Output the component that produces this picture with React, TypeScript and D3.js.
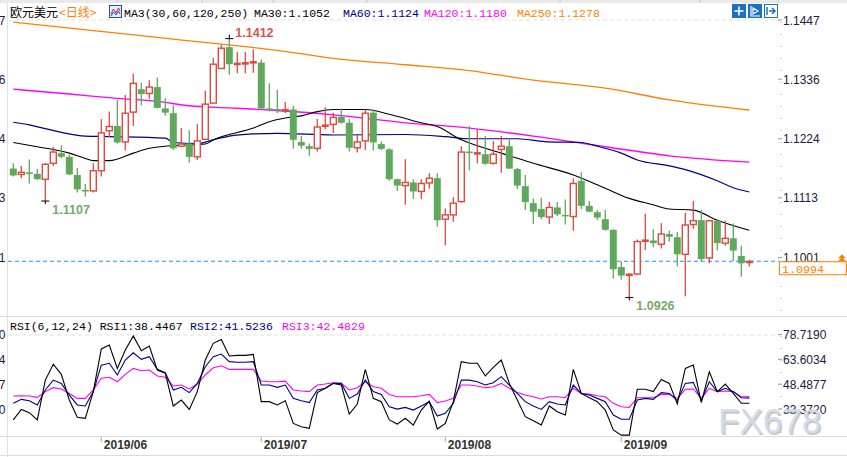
import React from 'react';
import * as d3 from 'd3';

// ---- Daily EUR/USD candles ----
const OPEN = [1.1168,1.1157,1.1161,1.1158,1.1148,1.1178,1.1197,1.1190,1.1156,1.1128,
  1.1126,1.1164,1.1239,1.1248,1.1218,1.1274,1.1317,1.1309,1.1321,1.1281,
  1.1272,1.1210,1.1215,1.1190,1.1223,1.1291,1.1356,1.1396,1.1363,1.1364,
  1.1366,1.1367,1.1281,1.1280,1.1276,1.1279,1.1218,1.1210,1.1206,1.1247,
  1.1251,1.1265,1.1254,1.1207,1.1220,1.1273,1.1214,1.1204,1.1148,1.1136,
  1.1142,1.1125,1.1141,1.1150,1.1073,1.1081,1.1106,1.1200,1.1195,1.1195,
  1.1178,1.1204,1.1210,1.1167,1.1135,1.1103,1.1092,1.1077,1.1095,1.1081,
  1.1078,1.1145,1.1098,1.1086,1.1073,1.1053,1.0983,1.0967,1.0970,1.1031,
  1.1033,1.1026,1.1045,1.1039,1.1007,1.1063,1.1071,1.1000,1.1070,1.1028,
  1.1037,1.1004,1.0991];
const HIGH = [1.1178,1.1173,1.1185,1.1167,1.1178,1.1209,1.1212,1.1194,1.1169,1.1139,
  1.1178,1.1261,1.1275,1.1297,1.1306,1.1346,1.1329,1.1334,1.1339,1.1300,
  1.1287,1.1244,1.1240,1.1251,1.1314,1.1376,1.1401,1.1412,1.1387,1.1387,
  1.1392,1.1373,1.1328,1.1316,1.1293,1.1286,1.1229,1.1215,1.1261,1.1283,
  1.1273,1.1281,1.1261,1.1231,1.1279,1.1279,1.1219,1.1206,1.1149,1.1186,
  1.1148,1.1148,1.1159,1.1159,1.1093,1.1114,1.1210,1.1248,1.1242,1.1229,
  1.1220,1.1229,1.1225,1.1169,1.1156,1.1112,1.1113,1.1105,1.1105,1.1110,
  1.1150,1.1161,1.1107,1.1090,1.1090,1.1054,1.0993,1.0971,1.1035,1.1083,
  1.1054,1.1066,1.1051,1.1049,1.1085,1.1107,1.1090,1.1071,1.1071,1.1070,
  1.1065,1.1023,1.0997];
const LOW = [1.1153,1.1150,1.1140,1.1147,1.1107,1.1173,1.1187,1.1156,1.1123,1.1115,
  1.1123,1.1153,1.1227,1.1215,1.1202,1.1248,1.1287,1.1299,1.1281,1.1267,
  1.1203,1.1209,1.1179,1.1184,1.1222,1.1290,1.1355,1.1344,1.1347,1.1347,
  1.1348,1.1278,1.1275,1.1272,1.1272,1.1205,1.1205,1.1192,1.1200,1.1242,
  1.1235,1.1252,1.1200,1.1198,1.1203,1.1202,1.1203,1.1145,1.1126,1.1100,
  1.1111,1.1111,1.1130,1.1059,1.1024,1.1068,1.1104,1.1165,1.1178,1.1175,
  1.1175,1.1160,1.1167,1.1130,1.1090,1.1064,1.1073,1.1064,1.1079,1.1063,
  1.1051,1.1092,1.1086,1.1071,1.1051,1.0961,1.0959,1.0926,1.0968,1.1015,
  1.1020,1.1018,1.1031,1.0984,1.0928,1.1055,1.0993,1.0990,1.1014,1.1023,
  1.0995,1.0965,1.0984];
const CLOSE = [1.1155,1.1161,1.1158,1.1148,1.1176,1.1199,1.1190,1.1157,1.1129,1.1125,
  1.1164,1.1235,1.1247,1.1217,1.1272,1.1328,1.1308,1.1321,1.1282,1.1273,
  1.1206,1.1214,1.1190,1.1220,1.1289,1.1364,1.1394,1.1364,1.1366,1.1367,
  1.1369,1.1281,1.1279,1.1278,1.1279,1.1222,1.1211,1.1205,1.1246,1.1250,
  1.1264,1.1254,1.1207,1.1218,1.1272,1.1217,1.1205,1.1148,1.1136,1.1142,
  1.1125,1.1140,1.1150,1.1071,1.1081,1.1103,1.1199,1.1197,1.1198,1.1177,
  1.1195,1.1210,1.1168,1.1136,1.1105,1.1087,1.1077,1.1095,1.1082,1.1079,
  1.1140,1.1098,1.1087,1.1076,1.1053,1.0979,1.0967,1.0970,1.1031,1.1034,
  1.1028,1.1045,1.1040,1.1007,1.1062,1.1070,1.0998,1.1070,1.1028,1.1037,
  1.1014,1.0990,1.0994];

// ---- Moving averages: [candle index, value] ----
const MA30: [number, number][] = [[0,1.1217],[3,1.1209],[7,1.1197],[9,1.1187],[10,1.1183],[12,1.1183],[15,1.1197],[17,1.1206],[21,1.1212],[24,1.1214],[25,1.1222],[30,1.1244],[32,1.1256],[34,1.1263],[36,1.1267],[38,1.1275],[40,1.1279],[44,1.1279],[47,1.1270],[49,1.1262],[51,1.1254],[53,1.1247],[56,1.1222],[59,1.1206],[61,1.1197],[65,1.1178],[70,1.1156],[74,1.1131],[77,1.1112],[80,1.1100],[82,1.1092],[85,1.1090],[88,1.1071],[92,1.1052]];
const MA60: [number, number][] = [[0,1.1255],[2,1.1250],[4,1.1243],[6,1.1236],[9,1.1229],[12,1.1228],[19,1.1225],[20,1.1217],[23,1.1215],[25,1.1222],[27,1.1229],[30,1.1233],[33,1.1234],[40,1.1231],[49,1.1232],[54,1.1228],[57,1.1224],[63,1.1224],[67,1.1218],[71,1.1217],[73,1.1210],[76,1.1197],[78,1.1184],[82,1.1173],[84,1.1166],[88,1.1145],[90,1.1132],[92,1.1124]];
const MA120: [number, number][] = [[0,1.1317],[7,1.1308],[13,1.1300],[18,1.1294],[22,1.1286],[27,1.1282],[32,1.1278],[40,1.1269],[49,1.1254],[57,1.1244],[65,1.1229],[74,1.1209],[82,1.1192],[92,1.1180]];
const MA250: [number, number][] = [[0,1.1443],[10,1.1427],[20,1.1411],[33,1.1390],[40,1.1375],[49,1.1363],[57,1.1352],[65,1.1334],[74,1.1319],[82,1.1297],[92,1.1278]];

// ---- RSI (6,12,24) ----
const RSI1 = [28.3,34.7,32.7,28.3,52.5,62.1,56.0,40.4,29.9,29.3,
  45.5,71.4,73.8,59.6,70.8,79.3,70.3,73.2,58.6,56.6,
  36.8,40.4,34.7,45.5,64.7,74.8,77.2,67.1,67.5,67.5,
  68.1,39.4,39.4,37.4,40.0,26.2,24.2,23.2,44.9,47.5,
  50.5,49.5,31.9,38.0,59.0,41.4,39.4,28.3,25.8,29.3,
  25.2,34.3,39.8,22.8,26.2,39.4,63.7,62.7,62.7,55.0,
  60.2,64.7,50.5,40.4,30.3,27.8,25.2,36.8,33.3,31.3,
  59.0,44.4,41.8,39.4,34.3,22.2,19.1,19.1,46.9,46.9,
  45.5,52.9,50.5,38.0,59.6,61.6,38.8,57.6,45.5,50.1,
  44.4,38.4,38.4467];
const RSI2 = [38.4,40.8,40.0,37.4,46.5,52.5,50.5,43.4,37.4,36.8,
  45.5,61.6,62.7,55.6,64.7,69.1,65.1,66.7,59.0,57.0,
  46.5,48.1,44.9,50.5,60.6,66.7,68.3,63.7,63.3,63.3,
  63.7,49.5,49.5,48.1,49.5,41.4,40.0,38.8,46.5,47.5,
  50.5,50.5,41.4,44.0,52.5,45.5,43.8,36.3,34.9,35.9,
  34.3,36.8,39.4,30.7,32.3,38.4,52.5,52.5,51.5,49.5,
  50.9,54.6,49.5,44.4,39.4,36.8,34.7,39.4,38.0,37.4,
  49.5,44.4,43.4,41.4,39.4,31.3,28.7,28.7,40.4,41.4,
  40.8,44.9,44.4,40.0,50.5,51.1,40.0,51.5,45.5,47.5,
  45.5,41.8,41.5236];
const RSI3 = [42.8,43.0,42.8,42.0,45.5,47.9,47.1,44.4,41.4,41.4,
  46.5,53.6,54.2,51.5,56.0,59.6,58.2,58.6,55.0,54.2,
  48.9,49.5,47.1,50.1,55.6,60.0,61.2,59.0,59.0,59.0,
  59.0,51.9,51.5,51.5,51.9,46.5,45.9,45.5,49.5,50.1,
  50.9,50.5,46.5,47.9,51.5,48.5,47.5,43.8,42.4,42.4,
  42.4,43.0,43.8,38.8,39.8,41.4,49.5,49.5,48.9,47.9,
  48.5,50.5,47.5,44.9,43.4,42.4,41.0,42.4,42.4,41.8,
  47.5,44.4,44.0,43.0,42.4,38.4,36.3,35.9,41.8,41.8,
  41.8,43.8,43.8,41.4,46.9,47.1,41.4,47.5,45.5,45.9,
  45.5,42.4,42.4829];

const PRICE_TICKS = [1.1447, 1.1336, 1.1224, 1.1113, 1.1001];
const RSI_TICKS = [78.719, 63.6034, 48.4877, 33.372];
const MONTH_LABELS = ['2019/06', '2019/07', '2019/08', '2019/09'];
const MONTH_START = [11, 31, 54, 76];
const LAST_PRICE = 1.0994;
const HIGH_MARK = { index: 27, value: 1.1412 };
const LOW_MARKS = [{ index: 4, value: 1.1107 }, { index: 77, value: 1.0926 }];

const UP = '#dc4a40';
const DOWN = '#60a85c';
const MONO = '"Liberation Mono", "DejaVu Sans Mono", monospace';
const SANS = '"Liberation Sans", Arial, sans-serif';

export default function App() {
  const W = 847, H = 457;
  const x = d3.scaleLinear().domain([0, 92]).range([13.3, 749.3]);
  const yP = d3.scaleLinear().domain([1.1447, 1.1001]).range([20, 257.5]);
  const yR = d3.scaleLinear().domain([78.719, 33.372]).range([336.9, 411.6]);

  const maLine = d3.line<[number, number]>().x(d => x(d[0])).y(d => yP(d[1])).curve(d3.curveMonotoneX);
  const rsiLine = d3.line<number>().x((_, i) => x(i)).y(d => yR(d));

  const candles = OPEN.map((o, i) => {
    const c = CLOSE[i], h = HIGH[i], l = LOW[i];
    const cx = x(i);
    const up = c >= o;
    const yTop = yP(Math.max(o, c)), yBot = yP(Math.min(o, c));
    const bodyH = yBot - yTop;
    if (up) {
      if (bodyH < 2) {
        return (
          <g key={i}>
            <line x1={cx} x2={cx} y1={yP(h)} y2={yP(l)} stroke={UP} strokeWidth={1.3} />
            <rect x={cx - 3.5} y={yTop - 0.5} width={7} height={Math.max(2, bodyH + 1)} fill={UP} />
          </g>
        );
      }
      return (
        <g key={i}>
          <line x1={cx} x2={cx} y1={yP(h)} y2={yTop} stroke={UP} strokeWidth={1.3} />
          <line x1={cx} x2={cx} y1={yBot} y2={yP(l)} stroke={UP} strokeWidth={1.3} />
          <rect x={cx - 3} y={yTop} width={6} height={bodyH} fill="#fff" stroke={UP} strokeWidth={1.4} />
        </g>
      );
    }
    return (
      <g key={i}>
        <line x1={cx} x2={cx} y1={yP(h)} y2={yP(l)} stroke={DOWN} strokeWidth={1.3} />
        <rect x={cx - 3.5} y={yTop} width={7} height={Math.max(1.5, bodyH)} fill={DOWN} />
      </g>
    );
  });

  const axisX = 781;
  const lastY = yP(LAST_PRICE);

  return (
    <svg width={W} height={H} style={{ position: 'absolute', left: 0, top: 0, background: '#fff' }}>
      <rect x={0} y={0} width={W} height={H} fill="#fff" />
      {/* top toolbar strip */}
      <rect x={0} y={0} width={W} height={3} fill="#e9e9e9" />
      {[117, 202, 273, 367, 560, 700, 778].map(v => (
        <line key={v} x1={v} x2={v} y1={0} y2={3} stroke="#c8c8c8" />
      ))}

      {/* panel frame lines */}
      <line x1={7.5} x2={7.5} y1={3} y2={H} stroke="#e2e2e2" />
      <line x1={0} x2={W} y1={316.5} y2={316.5} stroke="#dcdcdc" />
      <line x1={0} x2={W} y1={436.5} y2={436.5} stroke="#dcdcdc" />
      <line x1={0} x2={W} y1={455.5} y2={455.5} stroke="#dcdcdc" />

      {/* top grid dashes */}
      <line x1={8} x2={axisX} y1={yP(PRICE_TICKS[0])} y2={yP(PRICE_TICKS[0])} stroke="#e0e0e0" strokeDasharray="4,3" />
      <line x1={8} x2={axisX} y1={335} y2={335} stroke="#e0e0e0" strokeDasharray="4,3" />

      {/* price axis */}
      <line x1={axisX} x2={axisX} y1={22} y2={316} stroke="#a8a8a8" strokeDasharray="1,11" />
      {PRICE_TICKS.map(t => (
        <g key={t}>
          <line x1={axisX - 3} x2={axisX + 1} y1={yP(t)} y2={yP(t)} stroke="#999" />
          <text x={783} y={yP(t) + 4.5} fontFamily={SANS} fontSize={12} fill="#20203c">{t.toFixed(4)}</text>
          <text x={5.5} y={yP(t) + 4.5} fontFamily={SANS} fontSize={12} fill="#20203c" textAnchor="end">{t.toFixed(4)}</text>
        </g>
      ))}

      {/* RSI axis */}
      <line x1={axisX} x2={axisX} y1={336} y2={436} stroke="#a8a8a8" strokeDasharray="1,11" />
      {RSI_TICKS.map(t => (
        <g key={t}>
          <line x1={axisX - 3} x2={axisX + 1} y1={yR(t) - 2.5} y2={yR(t) - 2.5} stroke="#999" />
          <text x={783} y={yR(t) + 2} fontFamily={SANS} fontSize={12} fill="#20203c">{t.toFixed(4)}</text>
          <text x={5.5} y={yR(t) + 2} fontFamily={SANS} fontSize={12} fill="#20203c" textAnchor="end">{t.toFixed(4)}</text>
        </g>
      ))}

      {/* moving averages */}
      <path d={maLine(MA250) || ''} fill="none" stroke="#ff8000" strokeWidth={1.3} />
      <path d={maLine(MA120) || ''} fill="none" stroke="#ff00ff" strokeWidth={1.3} />
      <path d={maLine(MA60) || ''} fill="none" stroke="#000080" strokeWidth={1.2} />
      <path d={maLine(MA30) || ''} fill="none" stroke="#000" strokeWidth={1.1} />

      {/* last price line */}
      <line x1={8} x2={axisX - 2} y1={lastY} y2={lastY} stroke="#1e90ff" strokeDasharray="4,3" strokeWidth={1.2} />

      {candles}

      {/* high / low annotations */}
      <g>
        <line x1={x(HIGH_MARK.index) - 4} x2={x(HIGH_MARK.index) + 4} y1={yP(HIGH_MARK.value)} y2={yP(HIGH_MARK.value)} stroke="#000" />
        <line x1={x(HIGH_MARK.index)} x2={x(HIGH_MARK.index)} y1={yP(HIGH_MARK.value) - 4} y2={yP(HIGH_MARK.value)} stroke="#000" />
        <text x={x(HIGH_MARK.index) + 6} y={yP(HIGH_MARK.value) - 2} fontFamily={SANS} fontSize={12.5} fontWeight="bold" fill="#d9534f">{HIGH_MARK.value.toFixed(4)}</text>
      </g>
      {LOW_MARKS.map(m => (
        <g key={m.index}>
          <line x1={x(m.index) - 4} x2={x(m.index) + 4} y1={yP(m.value)} y2={yP(m.value)} stroke="#000" />
          <line x1={x(m.index)} x2={x(m.index)} y1={yP(m.value)} y2={yP(m.value) + 3} stroke="#000" />
          <text x={x(m.index) + 7} y={yP(m.value) + 13} fontFamily={SANS} fontSize={12.5} fontWeight="bold" fill="#78a86a">{m.value.toFixed(4)}</text>
        </g>
      ))}

      {/* current price box */}
      <rect x={779.5} y={lastY + 0.5} width={67} height={13} fill="#fff" stroke="#ff8000" />
      <text x={782} y={lastY + 11.5} fontFamily={MONO} fontSize={11.7} fill="#ff8000">{LAST_PRICE.toFixed(4)}</text>
      <path d={`M838,${lastY - 3} L842,${lastY - 7} L846,${lastY - 3} Z M838,${lastY} L842,${lastY - 4} L846,${lastY} Z`} fill="#ff8000" />

      {/* RSI lines */}
      <path d={rsiLine(RSI3) || ''} fill="none" stroke="#ff00ff" strokeWidth={1.1} />
      <path d={rsiLine(RSI2) || ''} fill="none" stroke="#000080" strokeWidth={1.1} />
      <path d={rsiLine(RSI1) || ''} fill="none" stroke="#000" strokeWidth={1.1} />

      {/* time axis */}
      {MONTH_LABELS.map((m, k) => (
        <g key={m}>
          <line x1={x(MONTH_START[k])} x2={x(MONTH_START[k])} y1={437} y2={442} stroke="#aaa" />
          <text x={x(MONTH_START[k]) + 2.5} y={449} fontFamily={SANS} fontSize={12} fontWeight="bold" fill="#333">{m}</text>
        </g>
      ))}

      {/* watermark */}
      <text x={719.5} y={434.5} fontFamily={SANS} fontSize={35} fill="#a89c90" opacity={0.55}>FX678</text>
      <text x={718} y={433} fontFamily={SANS} fontSize={35} fill="#cddcee" opacity={0.9}>FX678</text>

      {/* main legend */}
      <text x={10} y={16.5} fontFamily='"Noto Sans CJK SC", sans-serif' fontSize={12} fill="#000">欧元美元</text>
      <text x={59} y={16.5} fontFamily='"Noto Sans CJK SC", sans-serif' fontSize={12} fill="#ff8000">&lt;日线&gt;</text>
      <rect x={109.5} y={5.5} width={12} height={12} fill="#e4ecff" stroke="#2050b0" />
      <polyline points="111,14 113.5,9 116,13 118.5,8 120,11" fill="none" stroke="#d02020" strokeWidth={1} />
      <polyline points="111,16 113.5,12 116,15 118.5,11 120,14" fill="none" stroke="#2050d0" strokeWidth={1} />
      <text x={124} y={16.5} fontFamily={MONO} fontSize={11.5} fill="#000">MA3(30,60,120,250)</text>
      <text x={254} y={16.5} fontFamily={MONO} fontSize={11.5} fill="#000">MA30:1.1052</text>
      <text x={343} y={16.5} fontFamily={MONO} fontSize={11.5} fill="#000080">MA60:1.1124</text>
      <text x={424} y={16.5} fontFamily={MONO} fontSize={11.5} fill="#ff00ff">MA120:1.1180</text>
      <text x={517} y={16.5} fontFamily={MONO} fontSize={11.5} fill="#ff8000">MA250:1.1278</text>

      {/* toolbar icons */}
      <rect x={732} y={4} width={14} height={14} fill="#1b72c4" />
      <path d="M739,6.5 V15.5 M734.5,11 H743.5" stroke="#fff" strokeWidth={1.5} />
      <rect x={748} y={4} width={14} height={14} fill="#1b72c4" />
      <path d="M751,6 V16 H760 M753,8 L758,11 L753,14 Z" stroke="#fff" strokeWidth={1.2} fill="none" />
      <rect x={764.5} y={4.5} width={13} height={13} fill="#fff" stroke="#1b72c4" />
      <path d="M767,7 V15 M769,11 H775 M772,8 L775,11 L772,14" stroke="#1b72c4" strokeWidth={1.5} fill="none" />

      {/* RSI legend */}
      <text x={10} y={330} fontFamily={MONO} fontSize={11.5} fill="#000">RSI(6,12,24) RSI1:38.4467</text>
      <text x={190} y={330} fontFamily={MONO} fontSize={11.5} fill="#000080">RSI2:41.5236</text>
      <text x={282} y={330} fontFamily={MONO} fontSize={11.5} fill="#ff00ff">RSI3:42.4829</text>
    </svg>
  );
}
